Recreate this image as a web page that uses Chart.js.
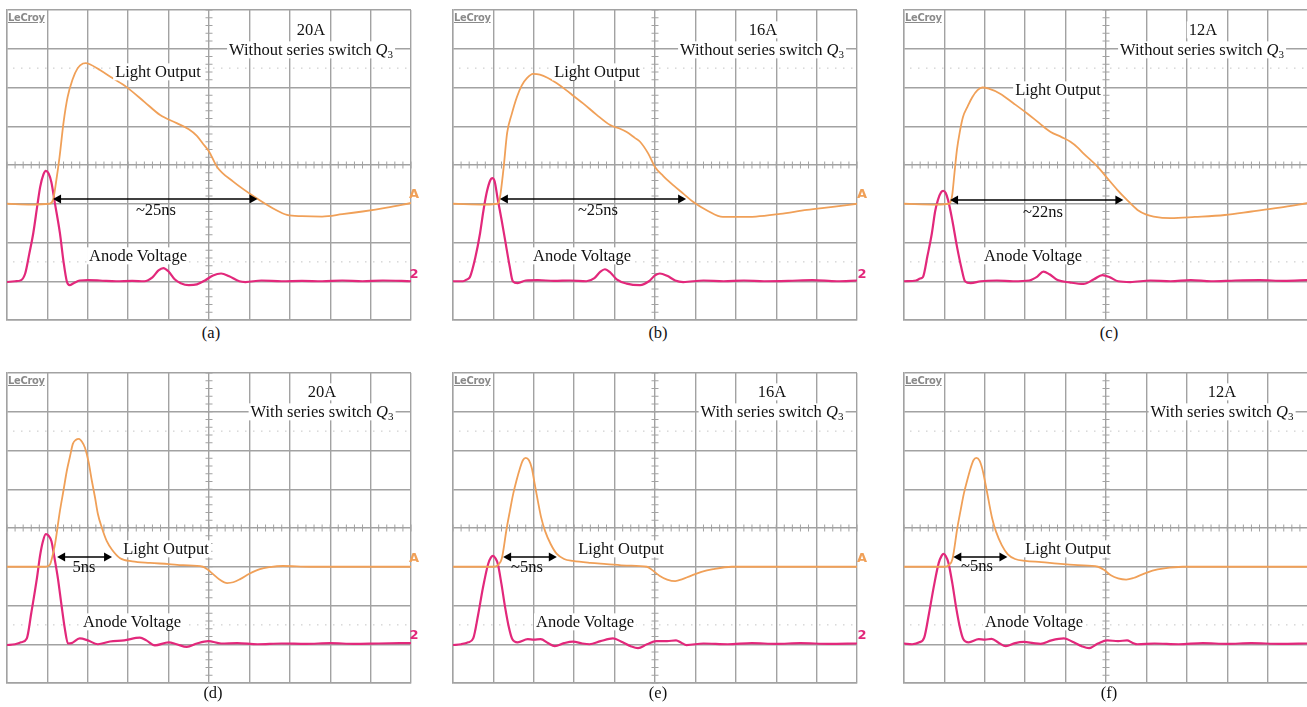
<!DOCTYPE html>
<html>
<head>
<meta charset="utf-8">
<script src="https://cdn.jsdelivr.net/npm/chart.js@4.4.1/dist/chart.umd.min.js"></script>
<style>
  html, body { margin: 0; padding: 0; background: #fff; }
  #fig { position: relative; width: 1307px; height: 707px; overflow: hidden; font-family: "Liberation Serif", "Times New Roman", serif; }
  #fig canvas { position: absolute; }
  .lbl { position: absolute; transform: translate(-50%, -50%); white-space: nowrap; font-size: 16.5px; line-height: 1.05; color: #111; background: #fff; padding: 0 2px; }
  .lbl sub { font-size: 11px; vertical-align: -3px; line-height: 0; }
  .tag { position: absolute; transform: translate(-50%, -50%); font-size: 16.5px; color: #111; }
  .mark { position: absolute; transform: translate(-50%, -50%); font: bold 13px "DejaVu Sans", sans-serif; }
  .logo { position: absolute; font: bold 11px "DejaVu Sans Condensed", "DejaVu Sans", sans-serif; color: #8a8a8a; text-decoration: underline; background: #fff; letter-spacing: -0.3px; }
</style>
</head>
<body>
<div id="fig"></div>
<script>
// time axis in divisions (0..10), level in divisions (-4..4)
const lightA = [[0,-1],[0.6,-1.02],[1.05,-1.0],[1.14,-0.9],[1.22,-0.4],[1.3,0.2],[1.4,1.1],[1.5,1.75],[1.62,2.2],[1.75,2.5],[1.88,2.62],[1.95,2.63],[2.05,2.6],[2.3,2.45],[2.6,2.25],[2.96,2.01],[3.4,1.63],[3.79,1.29],[4.2,1.08],[4.5,0.92],[4.7,0.75],[4.85,0.55],[5.0,0.35],[5.2,-0.05],[5.6,-0.43],[6.18,-0.86],[6.6,-1.13],[6.93,-1.29],[7.3,-1.32],[7.8,-1.33],[8.3,-1.27],[8.8,-1.2],[9.4,-1.1],[10,-0.98]];
const anodeA = [[0,-3.02],[0.2,-3.0],[0.35,-2.97],[0.45,-2.8],[0.55,-2.3],[0.65,-1.76],[0.75,-1.05],[0.82,-0.57],[0.9,-0.25],[0.96,-0.15],[1.03,-0.22],[1.1,-0.45],[1.18,-0.95],[1.31,-1.76],[1.4,-2.5],[1.48,-3.0],[1.55,-3.1],[1.65,-3.05],[1.8,-2.98],[2.0,-2.97],[2.3,-2.98],[2.7,-3.0],[3.1,-2.99],[3.4,-3.0],[3.6,-2.9],[3.75,-2.72],[3.87,-2.66],[4.0,-2.75],[4.15,-2.95],[4.3,-3.05],[4.5,-3.1],[4.7,-3.08],[4.9,-2.98],[5.1,-2.85],[5.3,-2.8],[5.5,-2.87],[5.75,-3.0],[5.9,-3.02],[6.3,-2.98],[6.8,-3.0],[7.3,-2.99],[7.8,-3.0],[8.3,-2.98],[8.8,-3.0],[9.3,-2.98],[10,-3.0]];

const lightB = [[0,-1],[0.8,-1.02],[1.1,-1.0],[1.16,-0.85],[1.25,-0.1],[1.34,0.83],[1.45,1.3],[1.58,1.75],[1.7,2.05],[1.83,2.24],[1.98,2.35],[2.15,2.33],[2.57,2.11],[2.9,1.85],[3.22,1.59],[3.55,1.3],[3.89,1.03],[4.1,0.95],[4.3,0.85],[4.5,0.7],[4.63,0.6],[4.83,0.3],[5.0,-0.05],[5.2,-0.28],[5.45,-0.52],[5.7,-0.74],[5.94,-0.95],[6.3,-1.18],[6.68,-1.34],[7.0,-1.34],[7.5,-1.33],[8.1,-1.26],[8.76,-1.16],[9.4,-1.08],[10,-1.0]];
const anodeB = [[0,-3.0],[0.25,-3.0],[0.35,-2.95],[0.42,-2.89],[0.55,-2.4],[0.67,-1.76],[0.75,-1.2],[0.83,-0.73],[0.92,-0.4],[0.97,-0.34],[1.03,-0.42],[1.11,-0.9],[1.2,-1.4],[1.29,-1.94],[1.4,-2.6],[1.48,-3.0],[1.6,-3.05],[1.8,-2.98],[2.1,-2.97],[2.5,-2.99],[2.9,-2.98],[3.3,-3.0],[3.5,-2.92],[3.65,-2.75],[3.76,-2.69],[3.9,-2.78],[4.05,-2.95],[4.3,-3.06],[4.63,-3.1],[4.85,-3.0],[5.0,-2.85],[5.12,-2.8],[5.3,-2.86],[5.5,-2.98],[5.7,-3.02],[6.2,-2.98],[6.7,-3.0],[7.2,-2.98],[7.7,-3.0],[8.3,-2.99],[8.9,-2.97],[9.5,-3.0],[10,-2.98]];

const lightC = [[0,-1],[0.8,-1.02],[1.12,-1.0],[1.19,-0.8],[1.25,-0.2],[1.31,0.39],[1.38,0.85],[1.46,1.24],[1.57,1.5],[1.69,1.75],[1.82,1.93],[1.94,2.0],[2.1,1.97],[2.38,1.84],[2.7,1.6],[3.05,1.33],[3.35,1.08],[3.62,0.86],[3.9,0.72],[4.12,0.6],[4.3,0.45],[4.44,0.3],[4.79,-0.04],[5.0,-0.3],[5.28,-0.64],[5.5,-0.88],[5.78,-1.16],[6.0,-1.28],[6.18,-1.33],[6.6,-1.37],[7.2,-1.34],[7.94,-1.29],[8.6,-1.2],[9.3,-1.1],[10,-0.98]];
const anodeC = [[0,-3.0],[0.3,-2.98],[0.4,-2.93],[0.47,-2.89],[0.58,-2.35],[0.69,-1.76],[0.77,-1.2],[0.84,-0.9],[0.92,-0.7],[0.97,-0.67],[1.03,-0.72],[1.09,-0.9],[1.2,-1.45],[1.31,-2.1],[1.42,-2.65],[1.51,-3.0],[1.65,-3.05],[1.9,-3.0],[2.3,-2.98],[2.7,-3.0],[3.1,-2.98],[3.3,-2.88],[3.45,-2.75],[3.6,-2.82],[3.8,-2.97],[4.1,-3.03],[4.44,-3.07],[4.7,-2.95],[4.91,-2.84],[5.1,-2.9],[5.3,-3.0],[5.6,-3.02],[6.1,-2.98],[6.6,-3.0],[7.1,-2.97],[7.6,-3.0],[8.2,-2.98],[8.8,-2.97],[9.4,-2.99],[10,-2.97]];

const lightD = [[0,-1],[0.6,-1.0],[0.95,-1.0],[1.06,-0.95],[1.12,-0.75],[1.19,-0.41],[1.31,0.44],[1.4,0.98],[1.48,1.47],[1.56,1.85],[1.63,2.17],[1.7,2.27],[1.78,2.3],[1.86,2.22],[1.93,2.07],[2.02,1.7],[2.1,1.22],[2.18,0.78],[2.25,0.36],[2.35,0.0],[2.47,-0.34],[2.6,-0.56],[2.8,-0.78],[3.1,-0.86],[3.54,-0.9],[4.0,-0.93],[4.36,-0.96],[4.85,-1.0],[4.95,-1.06],[5.1,-1.19],[5.25,-1.32],[5.45,-1.42],[5.6,-1.4],[5.77,-1.32],[6.0,-1.18],[6.26,-1.06],[6.5,-1.01],[6.83,-0.98],[7.5,-1.0],[8.5,-1.0],[10,-1.0]];
const anodeD = [[0,-3.02],[0.2,-3.0],[0.35,-2.95],[0.49,-2.85],[0.6,-2.2],[0.74,-1.3],[0.82,-0.7],[0.89,-0.34],[0.96,-0.16],[1.03,-0.2],[1.1,-0.34],[1.18,-0.8],[1.26,-1.3],[1.35,-2.0],[1.43,-2.59],[1.51,-2.98],[1.6,-2.97],[1.8,-2.85],[2.0,-2.9],[2.25,-3.0],[2.55,-2.93],[2.9,-2.9],[3.29,-2.83],[3.45,-2.9],[3.66,-3.03],[4.0,-2.95],[4.2,-3.0],[4.45,-3.07],[4.7,-2.98],[4.98,-2.92],[5.3,-2.98],[5.7,-2.97],[6.2,-3.0],[6.8,-2.98],[7.4,-2.99],[8.0,-2.97],[8.6,-2.99],[9.2,-2.98],[10,-2.97]];

const lightE = [[0,-1],[0.6,-1.0],[1.0,-1.0],[1.12,-0.95],[1.21,-0.78],[1.33,0.0],[1.41,0.45],[1.49,0.88],[1.57,1.22],[1.66,1.55],[1.73,1.75],[1.8,1.81],[1.88,1.75],[1.95,1.55],[2.02,1.15],[2.1,0.7],[2.18,0.28],[2.28,-0.08],[2.42,-0.42],[2.57,-0.67],[2.75,-0.8],[2.97,-0.85],[3.4,-0.9],[3.8,-0.93],[4.3,-0.97],[4.8,-1.0],[4.95,-1.1],[5.12,-1.24],[5.3,-1.33],[5.5,-1.37],[5.68,-1.32],[5.87,-1.24],[6.15,-1.13],[6.44,-1.06],[6.9,-1.0],[7.8,-1.0],[10,-1.0]];
const anodeE = [[0,-3.02],[0.2,-3.0],[0.38,-2.95],[0.5,-2.85],[0.62,-2.25],[0.74,-1.55],[0.87,-0.93],[0.94,-0.76],[0.99,-0.72],[1.05,-0.78],[1.11,-0.93],[1.2,-1.45],[1.29,-2.05],[1.38,-2.55],[1.46,-2.85],[1.6,-2.95],[1.85,-2.87],[2.0,-2.88],[2.17,-2.87],[2.35,-2.97],[2.52,-3.05],[2.75,-2.97],[2.97,-2.93],[3.2,-2.98],[3.38,-3.0],[3.65,-2.92],[3.96,-2.85],[4.2,-2.95],[4.4,-3.05],[4.58,-3.1],[4.8,-3.0],[5.03,-2.92],[5.3,-2.92],[5.52,-2.9],[5.65,-2.96],[5.78,-3.02],[6.2,-2.98],[6.8,-3.0],[7.4,-2.97],[8.0,-2.99],[8.6,-2.97],[9.3,-2.99],[10,-2.98]];

const lightF = [[0,-1],[0.6,-1.0],[1.0,-1.0],[1.12,-0.95],[1.2,-0.8],[1.32,0.0],[1.4,0.45],[1.48,0.88],[1.57,1.25],[1.65,1.55],[1.72,1.75],[1.79,1.81],[1.87,1.74],[1.94,1.52],[2.02,1.12],[2.1,0.68],[2.18,0.26],[2.28,-0.1],[2.42,-0.44],[2.57,-0.68],[2.75,-0.8],[3.0,-0.85],[3.4,-0.88],[3.8,-0.92],[4.3,-0.96],[4.8,-1.0],[4.95,-1.08],[5.12,-1.22],[5.3,-1.3],[5.5,-1.33],[5.68,-1.29],[5.87,-1.21],[6.15,-1.1],[6.44,-1.04],[6.9,-1.0],[7.8,-1.0],[10,-1.0]];
const anodeF = [[0,-2.98],[0.2,-3.0],[0.38,-2.95],[0.5,-2.83],[0.62,-2.2],[0.74,-1.5],[0.86,-0.9],[0.93,-0.72],[0.97,-0.67],[1.03,-0.72],[1.1,-0.9],[1.2,-1.45],[1.29,-2.05],[1.38,-2.55],[1.46,-2.85],[1.6,-2.95],[1.85,-2.87],[2.0,-2.88],[2.17,-2.86],[2.35,-2.97],[2.52,-3.05],[2.75,-2.97],[2.97,-2.94],[3.2,-2.97],[3.38,-2.99],[3.65,-2.9],[3.96,-2.85],[4.2,-2.95],[4.4,-3.05],[4.58,-3.1],[4.8,-2.98],[5.03,-2.9],[5.3,-2.92],[5.52,-2.9],[5.65,-2.96],[5.78,-3.0],[6.2,-2.98],[6.8,-3.0],[7.4,-2.97],[8.0,-2.99],[8.6,-2.97],[9.3,-2.99],[10,-2.98]];

const tags = ['(a)', '(b)', '(c)', '(d)', '(e)', '(f)'];
const currents = ['20A', '16A', '12A', '20A', '16A', '12A'];
const widths = ['~25ns', '~25ns', '~22ns', '5ns', '~5ns', '~5ns'];
const lights = [lightA, lightB, lightC, lightD, lightE, lightF];
const anodes = [anodeA, anodeB, anodeC, anodeD, anodeE, anodeF];
// arrow span [from, to, level] in divisions
const spans = [[1.14, 6.2, -0.88], [1.16, 5.77, -0.88], [1.14, 5.43, -0.9], [1.24, 2.6, -0.75], [1.24, 2.57, -0.75], [1.22, 2.56, -0.75]];

// layout (pixels)
const colX = [7, 453, 904];
const rowY = [10, 373];
const plotW = 404, plotH = 310, pad = 2;
const textPos = [
  { amp: [311, 30], mode: [311, 50], light: [158, 72], span: [156, 210], anode: [138, 256], tag: [211, 333], mk: [414, 193, 273] },
  { amp: [763, 30], mode: [762, 50], light: [597, 72], span: [598, 210], anode: [582, 256], tag: [658, 333], mk: [862, 193, 273] },
  { amp: [1203, 30], mode: [1202, 50], light: [1058, 90], span: [1043, 212], anode: [1033, 256], tag: [1109, 333], mk: null },
  { amp: [322, 392], mode: [322, 412], light: [166, 549], span: [84, 567], anode: [132, 622], tag: [213, 693], mk: [414, 557, 634] },
  { amp: [772, 392], mode: [772, 412], light: [621, 549], span: [527, 567], anode: [585, 622], tag: [658, 693], mk: [862, 557, 634] },
  { amp: [1222, 392], mode: [1222, 412], light: [1068, 549], span: [977, 566], anode: [1034, 622], tag: [1109, 693], mk: null }
];

const GRID = '#a2a2a2';
const ORANGE = '#f0a058';
const PINK = '#e2287b';

// scope screen details: centre-axis minor ticks, dotted rows, the time-span arrow
const scopePlugin = {
  id: 'scope',
  beforeDatasetsDraw(chart) {
    const { ctx, chartArea: a, scales: { x, y } } = chart;
    ctx.save();
    ctx.strokeStyle = GRID;
    ctx.lineWidth = 1;
    const cx = x.getPixelForValue(5), cy = y.getPixelForValue(0);
    ctx.beginPath();
    for (let i = 0; i <= 50; i++) {
      const px = x.getPixelForValue(i * 0.2);
      ctx.moveTo(px, cy - 3.5); ctx.lineTo(px, cy + 3.5);
    }
    for (let i = 0; i <= 40; i++) {
      const py = y.getPixelForValue(-4 + i * 0.2);
      ctx.moveTo(cx - 3.5, py); ctx.lineTo(cx + 3.5, py);
    }
    ctx.stroke();
    ctx.strokeStyle = '#c4c4c4';
    ctx.setLineDash([1.5, 6.5]);
    [2.5, -2.5].forEach(v => {
      const py = y.getPixelForValue(v);
      ctx.beginPath(); ctx.moveTo(a.left + 6, py); ctx.lineTo(a.right, py); ctx.stroke();
    });
    ctx.restore();
  },
  afterDatasetsDraw(chart, args, opts) {
    if (!opts.span) return;
    const { ctx, scales: { x, y } } = chart;
    const x1 = x.getPixelForValue(opts.span[0]);
    const x2 = x.getPixelForValue(opts.span[1]);
    const py = y.getPixelForValue(opts.span[2]);
    ctx.save();
    ctx.strokeStyle = '#000'; ctx.fillStyle = '#000'; ctx.lineWidth = 1.5;
    ctx.beginPath(); ctx.moveTo(x1 + 4, py); ctx.lineTo(x2 - 4, py); ctx.stroke();
    ctx.beginPath(); ctx.moveTo(x1, py); ctx.lineTo(x1 + 8, py - 4.5); ctx.lineTo(x1 + 8, py + 4.5); ctx.closePath(); ctx.fill();
    ctx.beginPath(); ctx.moveTo(x2, py); ctx.lineTo(x2 - 8, py - 4.5); ctx.lineTo(x2 - 8, py + 4.5); ctx.closePath(); ctx.fill();
    ctx.restore();
  }
};

const fig = document.getElementById('fig');

function addText(cls, html, pos) {
  const d = document.createElement('div');
  d.className = cls;
  d.innerHTML = html;
  d.style.left = pos[0] + 'px';
  d.style.top = pos[1] + 'px';
  fig.appendChild(d);
  return d;
}

function toPoints(arr) {
  return arr.map(p => ({ x: p[0], y: p[1] }));
}

tags.forEach((tag, i) => {
  const left = colX[i % 3], top = rowY[Math.floor(i / 3)];
  const cv = document.createElement('canvas');
  cv.width = plotW + pad * 2;
  cv.height = plotH + pad * 2;
  cv.style.left = (left - pad) + 'px';
  cv.style.top = (top - pad) + 'px';
  fig.appendChild(cv);

  new Chart(cv.getContext('2d'), {
    type: 'scatter',
    data: {
      datasets: [
        { label: 'Light Output', data: toPoints(lights[i]), showLine: true, borderColor: ORANGE, borderWidth: 1.8, pointRadius: 0, cubicInterpolationMode: 'monotone' },
        { label: 'Anode Voltage', data: toPoints(anodes[i]), showLine: true, borderColor: PINK, borderWidth: 2.2, pointRadius: 0, cubicInterpolationMode: 'monotone' }
      ]
    },
    options: {
      responsive: false,
      animation: false,
      events: [],
      layout: { padding: pad },
      plugins: { legend: { display: false }, tooltip: { enabled: false }, scope: { span: spans[i] } },
      scales: {
        x: { type: 'linear', min: 0, max: 10, ticks: { display: false, stepSize: 1 }, grid: { color: GRID, lineWidth: 1.4, drawTicks: false }, border: { color: GRID, width: 1.4 } },
        y: { type: 'linear', min: -4, max: 4, ticks: { display: false, stepSize: 1 }, grid: { color: GRID, lineWidth: 1.4, drawTicks: false }, border: { color: GRID, width: 1.4 } }
      }
    },
    plugins: [scopePlugin]
  });

  const t = textPos[i];
  const logo = document.createElement('div');
  logo.className = 'logo';
  logo.textContent = 'LeCroy';
  logo.style.left = (left + 1) + 'px';
  logo.style.top = (top + 1) + 'px';
  fig.appendChild(logo);

  addText('lbl', currents[i], t.amp);
  addText('lbl', (i < 3 ? 'Without' : 'With') + ' series switch <i>Q</i><sub>3</sub>', t.mode);
  addText('lbl', 'Light Output', t.light);
  addText('lbl', widths[i], t.span).style.background = 'transparent';
  addText('lbl', 'Anode Voltage', t.anode);
  addText('tag', tag, t.tag);
  if (t.mk) {
    addText('mark', 'A', [t.mk[0], t.mk[1]]).style.color = ORANGE;
    addText('mark', '2', [t.mk[0], t.mk[2]]).style.color = PINK;
  }
});
</script>
</body>
</html>
